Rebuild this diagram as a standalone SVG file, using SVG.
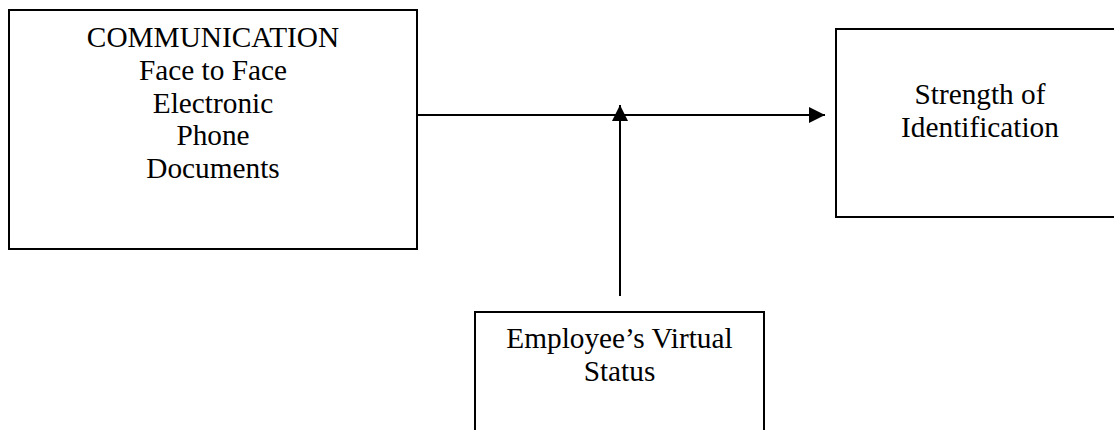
<svg xmlns="http://www.w3.org/2000/svg" width="1114" height="430" viewBox="0 0 1114 430">
  <style>
    .box { fill: #ffffff; stroke: #000000; stroke-width: 2; }
    .lbl { font-family: "Liberation Serif", "Times New Roman", serif; font-size: 29.3px; fill: #000000; text-anchor: middle; }
    .link { stroke: #000000; stroke-width: 2; fill: none; }
  </style>
  <defs>
    <marker id="arrow" viewBox="0 0 16 16" refX="16" refY="8" markerWidth="16" markerHeight="16" markerUnits="userSpaceOnUse" orient="auto">
      <path d="M0,0 L16,8 L0,16 Z" fill="#000000"/>
    </marker>
  </defs>
  <rect width="1114" height="430" fill="#ffffff"/>

  <g id="communication">
    <rect class="box" x="9" y="10" width="408" height="239"/>
    <text class="lbl" x="213" y="47">COMMUNICATION</text>
    <text class="lbl" x="213" y="80">Face to Face</text>
    <text class="lbl" x="213" y="113">Electronic</text>
    <text class="lbl" x="213" y="145">Phone</text>
    <text class="lbl" x="213" y="178">Documents</text>
  </g>

  <g id="identification">
    <rect class="box" x="836" y="29" width="300" height="188"/>
    <text class="lbl" x="980" y="104">Strength of</text>
    <text class="lbl" x="980" y="137">Identification</text>
  </g>

  <g id="virtual-status">
    <rect class="box" x="475" y="312" width="289" height="140"/>
    <text class="lbl" x="619.5" y="348">Employee’s Virtual</text>
    <text class="lbl" x="619.5" y="381">Status</text>
  </g>

  <g id="connectors">
    <line class="link" x1="417" y1="115" x2="825" y2="115" marker-end="url(#arrow)"/>
    <line class="link" x1="620" y1="296" x2="620" y2="105" marker-end="url(#arrow)"/>
  </g>
</svg>
